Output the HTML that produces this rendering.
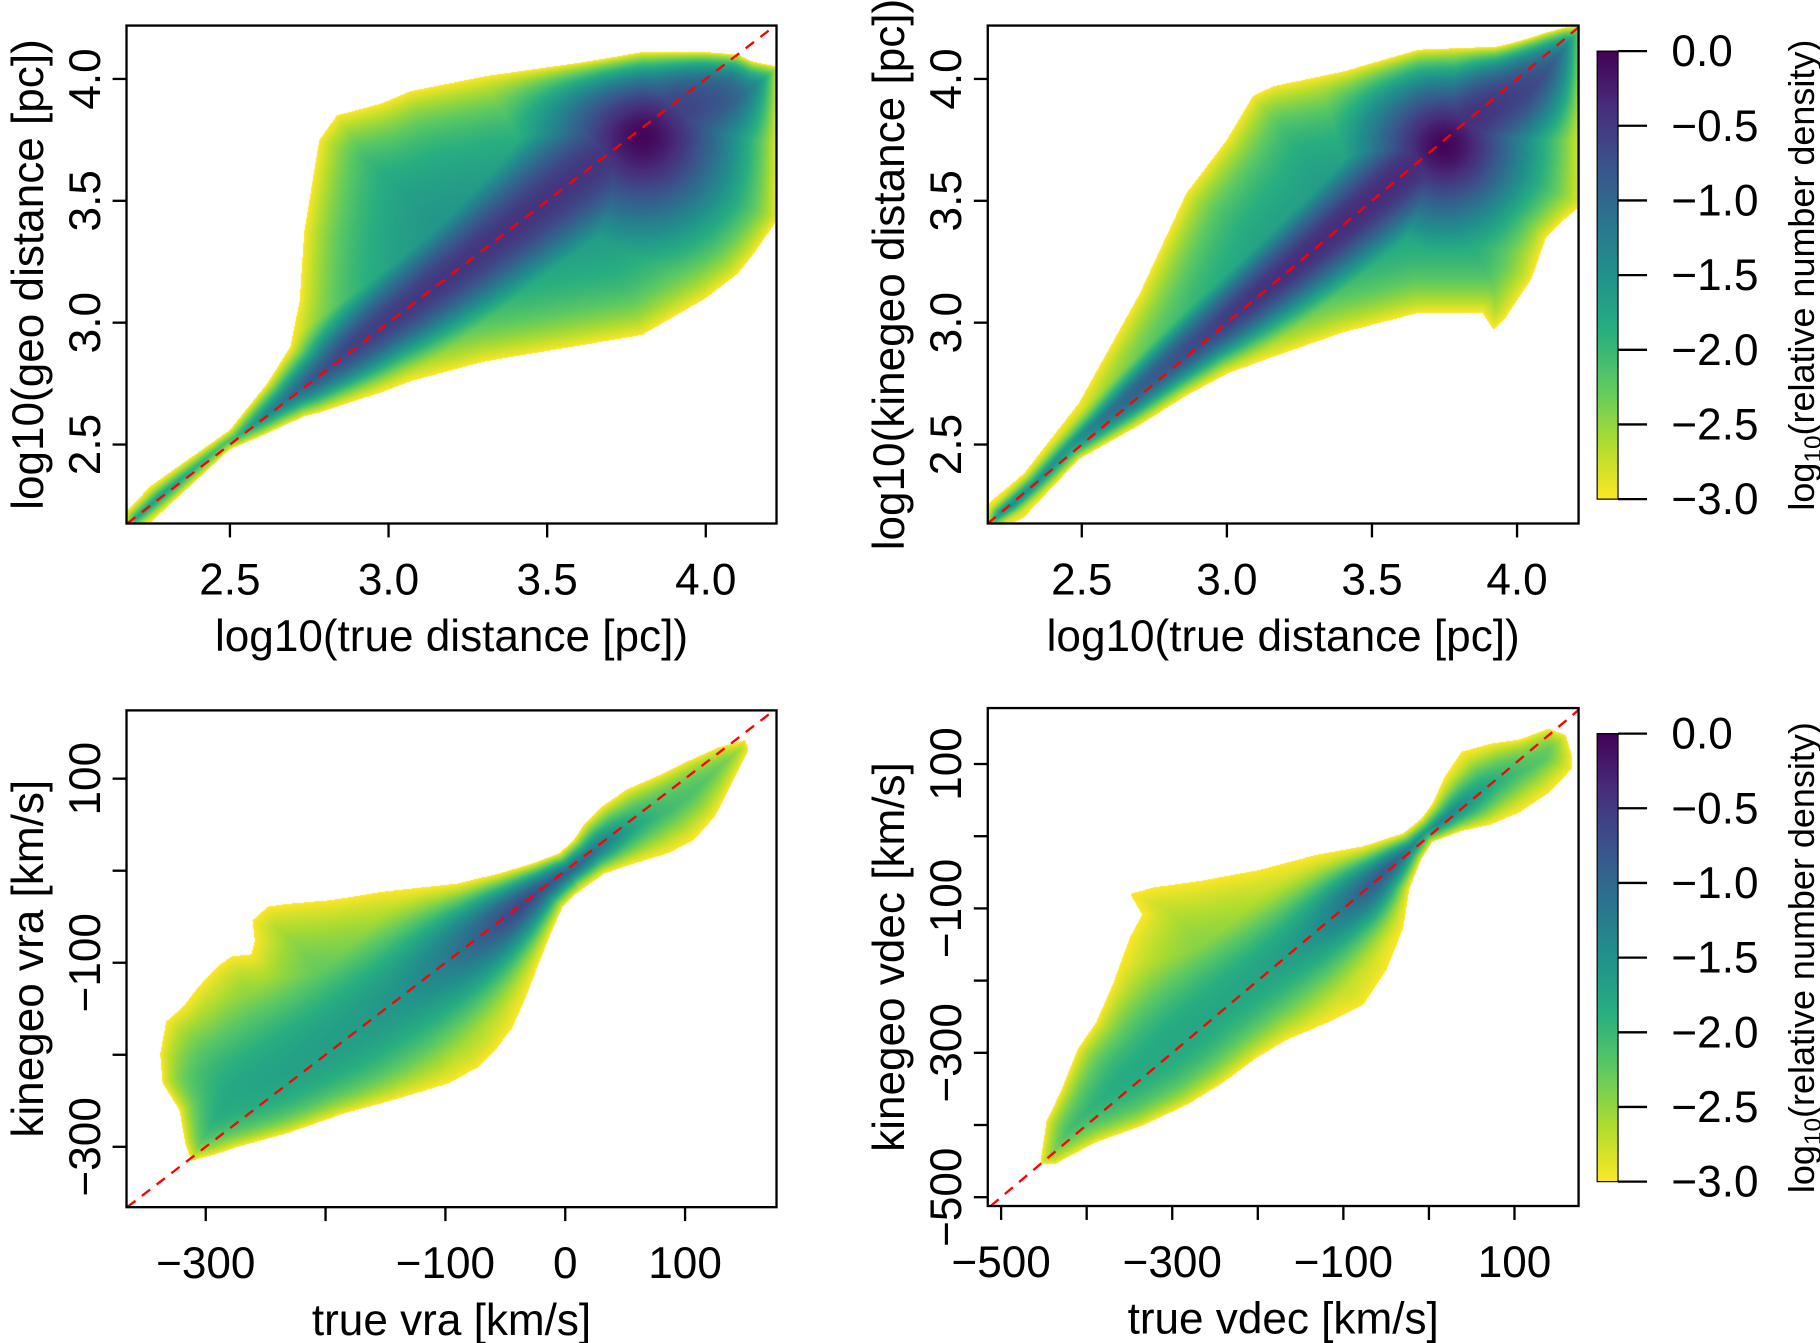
<!DOCTYPE html>
<html><head><meta charset="utf-8">
<style>
html,body{margin:0;padding:0;background:#fff;}
#wrap{position:relative;width:1820px;height:1343px;overflow:hidden;}
#dens{position:absolute;left:0;top:0;}
#ov{position:absolute;left:0;top:0;}
text{font-family:"Liberation Sans",sans-serif;fill:#000;}
</style></head>
<body>
<div id="wrap">
<canvas id="dens" width="1820" height="1343"></canvas>
<svg id="ov" width="1820" height="1343" viewBox="0 0 1568 1157"></svg>
</div>
<script>
// ---- data ----
const p1X  = [2.17, 2.25, 2.5, 2.617, 2.69, 2.72, 2.734, 2.764, 2.782, 2.837, 2.98, 3.07, 3.3, 3.62, 3.8, 4.0, 4.1, 4.15, 4.23];
const p1Up = [2.22, 2.33, 2.56, 2.75, 2.90, 3.09, 3.37, 3.61, 3.75, 3.85, 3.90, 3.95, 4.01, 4.07, 4.11, 4.11, 4.1, 4.07, 4.05];
const p1Lo = [2.1, 2.18, 2.48, 2.545, 2.59, 2.605, 2.615, 2.625, 2.63, 2.655, 2.715, 2.76, 2.84, 2.91, 2.95, 3.1, 3.2, 3.28, 3.43];
const p1Peak = [3.8, 3.77];

const p2X  = [2.17, 2.3, 2.49, 2.7, 2.86, 3.0, 3.09, 3.16, 3.4, 3.66, 3.88, 3.92, 3.96, 4.05, 4.1, 4.16, 4.23];
const p2Up = [2.25, 2.38, 2.67, 3.12, 3.53, 3.75, 3.93, 3.97, 4.03, 4.12, 4.13, 4.13, 4.14, 4.17, 4.19, 4.21, 4.22];
const p2Lo = [2.12, 2.2, 2.44, 2.58, 2.7, 2.79, 2.83, 2.86, 2.96, 3.04, 3.04, 2.97, 3.02, 3.18, 3.35, 3.42, 3.49];
const p2Peak = [3.75, 3.73];

const p3OutX = [-338,-333,-319,-306,-290,-278,-262,-259,-261,-248,-231,-195,-153,-90,-55,-27,-5,7,16,30,51,79,104,128,150,
                153,146,125,107,86,58,33,9,-2,-12,-23,-34,-44,-58,-72,-97,-143,-185,-231,-273,-294,-312,-317,-322,-336];
const p3OutY = [-199,-164,-148,-126,-104,-93,-91,-76,-54,-39,-36,-32,-23,-14,-3,8,19,33,51,69,88,104,120,134,142,
                131,113,59,33,19,8,-3,-25,-39,-68,-104,-141,-170,-195,-213,-231,-249,-264,-285,-300,-309,-315,-297,-260,-231];
const p3Peak = [0, 0];

const p4OutX = [-454,-447,-430,-410,-389,-369,-349,-335,-349,-322,-267,-199,-132,-77,-30,-9,4,18,38,72,106,140,160,167,
                167,140,106,72,38,4,-9,-23,-30,-50,-77,-118,-166,-199,-240,-281,-335,-389,-437,-454];
const p4OutY = [-451,-395,-353,-294,-258,-204,-139,-109,-80,-71,-62,-47,-26,-14,4,24,45,81,117,128,134,149,140,111,
                93,60,33,16,7,-8,-32,-74,-127,-186,-234,-258,-282,-305,-341,-371,-401,-424,-454,-454];
const p4Peak = [-5, -5];

const distTicks = [2.5, 3.0, 3.5, 4.0];
const distTickLabels = ["2.5","3.0","3.5","4.0"];
const vraXTicks = [-300,-200,-100,0,100];
const vraXLabels = ["\u2212300","","\u2212100","0","100"];
const vraYTicks = [100,0,-100,-200,-300];
const vraYLabels = ["100","","\u2212100","","\u2212300"];
const vdecTicks = [-500,-400,-300,-200,-100,0,100];
const vdecLabels = ["\u2212500","","\u2212300","","\u2212100","","100"];
const cbTicks = [0,-0.5,-1,-1.5,-2,-2.5,-3];
const cbLabels = ["0.0","\u22120.5","\u22121.0","\u22121.5","\u22122.0","\u22122.5","\u22123.0"];

// ---- layout (display units, viewBox 1568x1157) ----
const S = 1820/1568;
const panels = [
 {name:'geo', box:[109,22,669,451], xd:[2.174,4.223], yd:[2.176,4.219]},
 {name:'kinegeo-dist', box:[851,22,1360,451], xd:[2.176,4.212], yd:[2.176,4.219]},
 {name:'vra', box:[109,612,669,1040], xd:[-366.1,176.3], yd:[-365.6,174.2]},
 {name:'vdec', box:[851,610,1360,1039], xd:[-515.6,174.9], yd:[-512.2,177.5]}
];
function sx(p,v){const b=p.box;return b[0]+(v-p.xd[0])/(p.xd[1]-p.xd[0])*(b[2]-b[0]);}
function sy(p,v){const b=p.box;return b[3]-(v-p.yd[0])/(p.yd[1]-p.yd[0])*(b[3]-b[1]);}

function polyFromBand(p,X,U,L){const pts=[];for(let i=0;i<X.length;i++)pts.push([sx(p,X[i]),sy(p,U[i])]);
 for(let i=X.length-1;i>=0;i--)pts.push([sx(p,X[i]),sy(p,L[i])]);return pts;}
function polyFromOut(p,X,Y){return X.map((x,i)=>[sx(p,x),sy(p,Y[i])]);}
panels[0].poly=polyFromBand(panels[0],p1X,p1Up,p1Lo);
panels[1].poly=polyFromBand(panels[1],p2X,p2Up,p2Lo);
panels[2].poly=polyFromOut(panels[2],p3OutX,p3OutY);
panels[3].poly=polyFromOut(panels[3],p4OutX,p4OutY);
panels[0].peak=[sx(panels[0],p1Peak[0]),sy(panels[0],p1Peak[1])];
panels[1].peak=[sx(panels[1],p2Peak[0]),sy(panels[1],p2Peak[1])];
panels[2].peak=[sx(panels[2],p3Peak[0]),sy(panels[2],p3Peak[1])];
panels[3].peak=[sx(panels[3],p4Peak[0]),sy(panels[3],p4Peak[1])];

const VIR=["#440154","#472d7b","#3b528b","#2c728e","#21918c","#28ae80","#5ec962","#addc30","#fde725"].map(h=>[parseInt(h.substr(1,2),16),parseInt(h.substr(3,2),16),parseInt(h.substr(5,2),16)]);
function vir(t){t=Math.max(0,Math.min(1,t));const f=t*8,i=Math.min(7,Math.floor(f)),r=f-i;const a=VIR[i],b=VIR[i+1];
 return [a[0]+(b[0]-a[0])*r,a[1]+(b[1]-a[1])*r,a[2]+(b[2]-a[2])*r];}

function inside(pts,x,y){let c=false;for(let i=0,j=pts.length-1;i<pts.length;j=i++){const xi=pts[i][0],yi=pts[i][1],xj=pts[j][0],yj=pts[j][1];
 if(((yi>y)!=(yj>y))&&(x<(xj-xi)*(y-yi)/(yj-yi)+xi))c=!c;}return c;}
function edist(pts,x,y){let m=1e9;for(let i=0,j=pts.length-1;i<pts.length;j=i++){const ax=pts[j][0],ay=pts[j][1],bx=pts[i][0],by=pts[i][1];
 const dx=bx-ax,dy=by-ay,L=dx*dx+dy*dy;let t=L?((x-ax)*dx+(y-ay)*dy)/L:0;t=Math.max(0,Math.min(1,t));
 const ex=ax+t*dx-x,ey=ay+t*dy-y,d=ex*ex+ey*ey;if(d<m)m=d;}return Math.sqrt(m);}

function valueAt(k,p,X,Y,e){
 const x0=sx(p,Math.max(p.xd[0],p.yd[0])),y0=sy(p,Math.max(p.xd[0],p.yd[0]));
 const x1=sx(p,Math.min(p.xd[1],p.yd[1])),y1=sy(p,Math.min(p.xd[1],p.yd[1]));
 const ux=x1-x0,uy=y1-y0,L=Math.hypot(ux,uy);const nx=ux/L,ny=uy/L;
 const s=(X-x0)*nx+(Y-y0)*ny; const r=Math.abs((X-x0)*ny-(Y-y0)*nx);
 const pk=p.peak; const sp=(pk[0]-x0)*nx+(pk[1]-y0)*ny; const ds=s-sp;
 const edge=1-Math.exp(-e/16);
 let base,ridge,peak;
 if(k===0){
  base=0.52*(1-Math.exp(-e/45));
  const w=8+0.12*s; ridge=0.85*Math.exp(-(r/w)*(r/w));
  const dd=Math.hypot(X-pk[0],Y-pk[1]); peak=1.0*Math.exp(-Math.pow(dd/110,1.6));
  return Math.max(base,(Math.max(ridge,peak))*edge);
 } else if(k===1){
  base=0.5*(1-Math.exp(-e/40));
  const w=7+0.1*s; ridge=0.88*Math.exp(-(r/w)*(r/w));
  const dd=Math.hypot(X-pk[0],Y-pk[1]); peak=1.0*Math.exp(-Math.pow(dd/95,1.6));
  return Math.max(base,(Math.max(ridge,peak))*edge);
 } else if(k===2){
  base=0.33*(1-Math.exp(-e/45));
  const amp = ds<0 ? 0.45+0.55*Math.exp(-(ds/110)*(ds/110)) : 0.38+0.62*Math.exp(-(ds/55)*(ds/55));
  const w = ds<0 ? 28+0.22*Math.abs(ds) : 22+0.2*ds;
  ridge=amp*Math.exp(-(r/w)*(r/w));
  return Math.max(base,ridge*edge);
 } else {
  base=0.28*(1-Math.exp(-e/50));
  const amp = ds<0 ? 0.42+0.58*Math.exp(-(ds/90)*(ds/90)) : 0.38+0.62*Math.exp(-(ds/50)*(ds/50));
  const w = ds<0 ? 20+0.2*Math.abs(ds) : 20+0.15*ds;
  ridge=amp*Math.exp(-(r/w)*(r/w));
  return Math.max(base,ridge*edge);
 }
}

const cv=document.getElementById('dens');const ctx=cv.getContext('2d');
const img=ctx.createImageData(1820,1343);const D=img.data;
for(let i=0;i<D.length;i+=4){D[i]=255;D[i+1]=255;D[i+2]=255;D[i+3]=255;}
panels.forEach((p,k)=>{
 const b=p.box;
 for(let py=Math.ceil(b[1]*S);py<Math.floor(b[3]*S);py++){
  for(let px=Math.ceil(b[0]*S);px<Math.floor(b[2]*S);px++){
   const X=(px+0.5)/S,Y=(py+0.5)/S;
   if(!inside(p.poly,X,Y))continue;
   const e=edist(p.poly,X,Y);
   const v=valueAt(k,p,X,Y,e);
   const c=vir(1-v);const o=(py*1820+px)*4;D[o]=c[0];D[o+1]=c[1];D[o+2]=c[2];
  }
 }
});
ctx.putImageData(img,0,0);

// ---- SVG overlay ----
const NS='http://www.w3.org/2000/svg';const svg=document.getElementById('ov');
function el(tag,attrs,parent){const e=document.createElementNS(NS,tag);for(const a in attrs)e.setAttribute(a,attrs[a]);(parent||svg).appendChild(e);return e;}
const FS=38;
function txt(x,y,s,opts,parent){const t=el('text',Object.assign({x:x,y:y,'font-size':FS,'text-anchor':'middle'},opts||{}),parent);t.textContent=s;return t;}

const defs=el('defs',{});
panels.forEach((p,k)=>{
 const b=p.box;
 const g=el('g',{});
 
 
 const cp=el('clipPath',{id:'cp'+k},defs);el('rect',{x:b[0],y:b[1],width:b[2]-b[0],height:b[3]-b[1]},cp);
 const lo=Math.max(p.xd[0],p.yd[0]),hi=Math.min(p.xd[1],p.yd[1]);
 const ln=el('line',{x1:sx(p,lo),y1:sy(p,lo),x2:sx(p,hi),y2:sy(p,hi),stroke:'#ff0000','stroke-width':2,'stroke-dasharray':'9,7','clip-path':'url(#cp'+k+')'},g);
 
 
 const r=el('rect',{x:b[0],y:b[1],width:b[2]-b[0],height:b[3]-b[1],fill:'none',stroke:'#000','stroke-width':2},g);
 
 
});

function xAxis(p,ticks,labels,title,nm){
 const b=p.box;const g=el('g',{});
 
 
 ticks.forEach((t,i)=>{const x=sx(p,t);el('line',{x1:x,y1:b[3],x2:x,y2:b[3]+12,stroke:'#000','stroke-width':2},g);
  if(labels[i]){const tt=txt(x,b[3]+61,labels[i],{},g);}});
 const tl=txt((b[0]+b[2])/2,b[3]+110,title,{},g);
 
 
}
function yAxis(p,ticks,labels,title,nm){
 const b=p.box;const g=el('g',{});
 
 
 ticks.forEach((t,i)=>{const y=sy(p,t);el('line',{x1:b[0]-12,y1:y,x2:b[0],y2:y,stroke:'#000','stroke-width':2},g);
  if(labels[i]){const xx=b[0]-23;const tt=txt(xx,y,labels[i],{transform:'rotate(-90 '+xx+' '+y+')'},g);}});
 const cx=b[0]-72,cy=(b[1]+b[3])/2;
 const tl=txt(cx,cy,title,{transform:'rotate(-90 '+cx+' '+cy+')'},g);
 
 
}
xAxis(panels[0],distTicks,distTickLabels,'log10(true distance [pc])','geo');
yAxis(panels[0],distTicks,distTickLabels,'log10(geo distance [pc])','geo');
xAxis(panels[1],distTicks,distTickLabels,'log10(true distance [pc])','kinegeo-dist');
yAxis(panels[1],distTicks,distTickLabels,'log10(kinegeo distance [pc])','kinegeo-dist');
xAxis(panels[2],vraXTicks,vraXLabels,'true vra [km/s]','vra');
yAxis(panels[2],vraYTicks,vraYLabels,'kinegeo vra [km/s]','vra');
xAxis(panels[3],vdecTicks,vdecLabels,'true vdec [km/s]','vdec');
yAxis(panels[3],vdecTicks,vdecLabels,'kinegeo vdec [km/s]','vdec');

const grad=el('linearGradient',{id:'vg',x1:0,y1:1,x2:0,y2:0},defs);
VIR.slice().reverse().forEach((c,i)=>el('stop',{offset:(i/8),'stop-color':'rgb('+c.join(',')+')'},grad));
[[44,430],[632,1018]].forEach((yy,k)=>{
 const g=el('g',{});
 
 
 const top=yy[0],bot=yy[1];
 el('rect',{x:1376,y:top,width:18,height:bot-top,fill:'url(#vg)',stroke:'#000','stroke-width':1},g);
 cbTicks.forEach((t,i)=>{const y=bot+(t+3)/3*(top-bot);
  el('line',{x1:1394,y1:y,x2:1419,y2:y,stroke:'#000','stroke-width':2},g);
  const tt=txt(1440,y+13,cbLabels[i],{'text-anchor':'start'},g);
  
  });
 const cx=1563,cy=(top+bot)/2;
 const t=el('text',{x:cx,y:cy,'font-size':31,'text-anchor':'middle',transform:'rotate(-90 '+cx+' '+cy+')'},g);
 
 
 t.appendChild(document.createTextNode('log'));
 const sub=el('tspan',{'font-size':21,dy:6},t);sub.textContent='10';
 const rest=el('tspan',{dy:-6},t);rest.textContent='(relative number density)';
});
</script>
</body></html>
